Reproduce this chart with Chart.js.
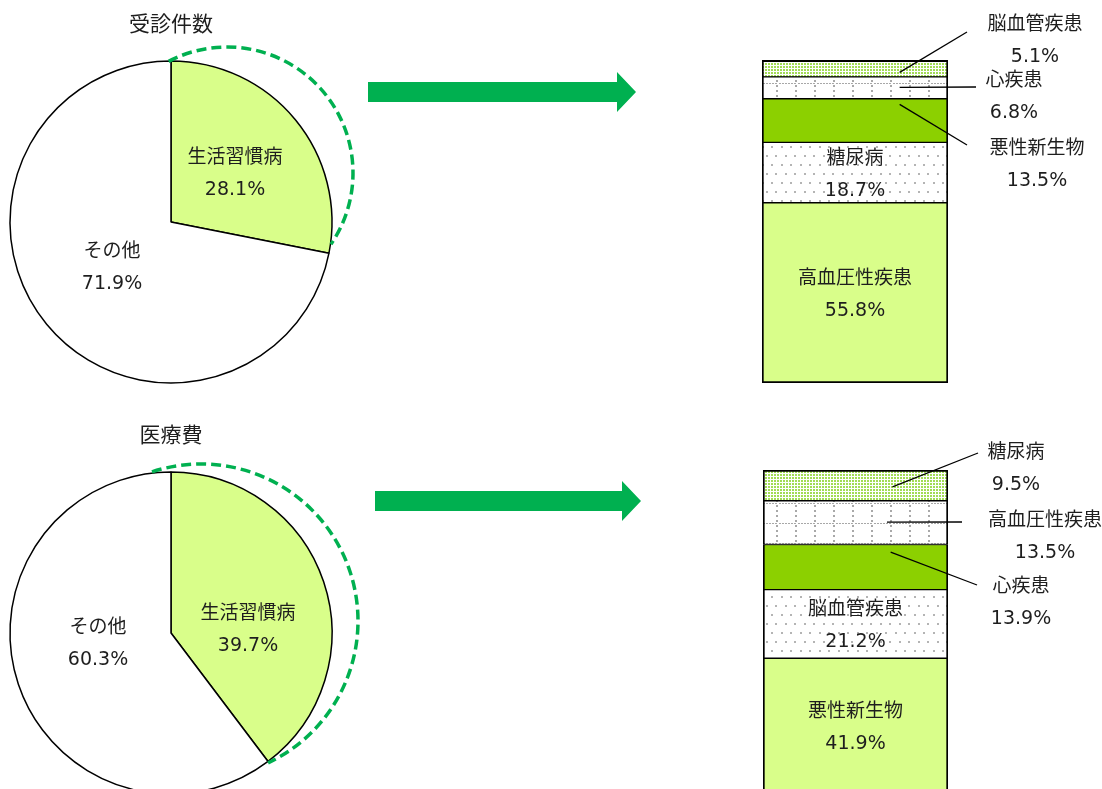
<!DOCTYPE html>
<html lang="ja">
<head>
<meta charset="utf-8">
<title>生活習慣病の受診件数と医療費</title>
<script src="https://cdn.jsdelivr.net/npm/chart.js@4.4.1/dist/chart.umd.min.js"></script>
<style>
  html, body { margin: 0; padding: 0; background: #fff; }
  #wrap { position: relative; width: 1102px; height: 789px; overflow: hidden; }
  #wrap canvas { position: absolute; left: 0; top: 0; }
</style>
</head>
<body>
<div id="wrap">
  <canvas id="pieCount" width="1102" height="820"></canvas>
  <canvas id="pieCost" width="1102" height="820"></canvas>
  <canvas id="barCount" width="1102" height="820"></canvas>
  <canvas id="barCost" width="1102" height="820"></canvas>
</div>
<script>
// share of lifestyle diseases
const pieLabels = ['生活習慣病', 'その他'];
const countShare = [28.1, 71.9];
const costShare = [39.7, 60.3];

// breakdown of lifestyle diseases, bottom of the stack first
const countDiseases = ['高血圧性疾患', '糖尿病', '悪性新生物', '心疾患', '脳血管疾患'];
const countValues = [55.8, 18.7, 13.5, 6.8, 5.1];
const costDiseases = ['悪性新生物', '脳血管疾患', '心疾患', '高血圧性疾患', '糖尿病'];
const costValues = [41.9, 21.2, 13.9, 13.5, 9.5];

const TEXT = '#1e1e1e';
const FONT = '19px "DejaVu Sans", "Noto Sans CJK JP", sans-serif';
const TITLE_FONT = '21px "DejaVu Sans", "Noto Sans CJK JP", sans-serif';
const LIGHT_GREEN = '#d9fe8a';
const SOLID_GREEN = '#8cd000';
const ARROW_GREEN = '#00b050';
const TEXT_NUDGE = 2; // middle baseline sits a little high for these fonts

// small repeating fills for the stacked bars
function makePattern(canvasId, w, h, paint) {
  const tile = document.createElement('canvas');
  tile.width = w; tile.height = h;
  const g = tile.getContext('2d');
  g.fillStyle = '#fff';
  g.fillRect(0, 0, w, h);
  paint(g);
  return document.getElementById(canvasId).getContext('2d').createPattern(tile, 'repeat');
}

function barFills(canvasId) {
  const greenDots = makePattern(canvasId, 3, 3, g => {
    g.fillStyle = '#a2dc55';
    g.fillRect(0, 0, 2, 2);
  });
  const dottedGrid = makePattern(canvasId, 19, 20, g => {
    g.fillStyle = '#a8a8a8';
    for (let x = 0; x < 18; x += 3) g.fillRect(x, 3, 2, 1);
    for (let y = 0; y < 20; y += 5) g.fillRect(16, y, 2, 2);
  });
  const sparseDots = makePattern(canvasId, 19, 18, g => {
    g.fillStyle = '#b4b4b4';
    g.fillRect(2, 2, 2, 2);
    g.fillRect(11, 2, 2, 2);
    g.fillRect(6, 11, 2, 2);
    g.fillRect(15, 11, 2, 2);
  });
  // fill by position in the stack, bottom to top
  return [LIGHT_GREEN, sparseDots, SOLID_GREEN, dottedGrid, greenDots];
}

function drawPair(ctx, lines, x, y) {
  ctx.fillText(lines[0], x, y - 16 + TEXT_NUDGE);
  ctx.fillText(lines[1], x, y + 16 + TEXT_NUDGE);
}

// title, dashed outline, slice labels and the arrow to the breakdown bar
function pieDecor(cfg) {
  return {
    id: 'pieDecor',
    afterDatasetsDraw(chart) {
      const ctx = chart.ctx;
      const arcs = chart.getDatasetMeta(0).data;
      const { x: cx, y: cy } = arcs[0].getProps(['x', 'y'], true);
      const values = chart.data.datasets[0].data;
      const deg = Math.PI / 180;

      ctx.save();
      ctx.strokeStyle = ARROW_GREEN;
      ctx.lineWidth = 3.5;
      ctx.setLineDash([10, 5]);
      ctx.beginPath();
      ctx.arc(cx + cfg.ring.dx, cy + cfg.ring.dy, cfg.ring.r,
        (cfg.ring.from - 90) * deg, (cfg.ring.to - 90) * deg);
      ctx.stroke();
      ctx.setLineDash([]);

      ctx.fillStyle = TEXT;
      ctx.textAlign = 'center';
      ctx.textBaseline = 'middle';
      ctx.font = TITLE_FONT;
      ctx.fillText(cfg.title, cx, cy - 198 + TEXT_NUDGE);

      ctx.font = FONT;
      chart.data.labels.forEach((name, i) => {
        const [dx, dy] = cfg.spots[i];
        drawPair(ctx, [name, values[i].toFixed(1) + '%'], cx + dx, cy + dy);
      });

      const a = cfg.arrow;
      ctx.fillStyle = ARROW_GREEN;
      ctx.beginPath();
      ctx.moveTo(a.x0, a.y - 10);
      ctx.lineTo(a.head, a.y - 10);
      ctx.lineTo(a.head, a.y - 20);
      ctx.lineTo(a.tip, a.y);
      ctx.lineTo(a.head, a.y + 20);
      ctx.lineTo(a.head, a.y + 10);
      ctx.lineTo(a.x0, a.y + 10);
      ctx.closePath();
      ctx.fill();
      ctx.restore();
    }
  };
}

// labels inside the two lower segments, callouts with leader lines for the rest
function barDecor(callouts) {
  return {
    id: 'barDecor',
    afterDatasetsDraw(chart) {
      const ctx = chart.ctx;
      ctx.save();
      ctx.font = FONT;
      ctx.fillStyle = TEXT;
      ctx.strokeStyle = '#000';
      ctx.lineWidth = 1.3;
      ctx.textAlign = 'center';
      ctx.textBaseline = 'middle';
      chart.data.datasets.forEach((ds, i) => {
        const bar = chart.getDatasetMeta(i).data[0];
        const { x, y, base, width } = bar.getProps(['x', 'y', 'base', 'width'], true);
        const lines = [ds.label, ds.data[0].toFixed(1) + '%'];
        const co = callouts.find(c => c.index === i);
        if (!co) {
          drawPair(ctx, lines, x, (y + base) / 2);
          return;
        }
        ctx.beginPath();
        ctx.moveTo(x - width / 2 + co.fx * width, y + co.fy * (base - y));
        ctx.lineTo(co.ex, co.ey);
        ctx.stroke();
        drawPair(ctx, lines, co.tx, co.ty);
      });
      ctx.restore();
    }
  };
}

function pieChart(id, data, padding, decor) {
  return new Chart(document.getElementById(id), {
    type: 'pie',
    data: {
      labels: pieLabels,
      datasets: [{
        data: data,
        backgroundColor: [LIGHT_GREEN, '#ffffff'],
        borderColor: '#000',
        borderWidth: 1.5
      }]
    },
    options: {
      responsive: false,
      animation: false,
      events: [],
      radius: 161,
      layout: { padding: padding },
      plugins: { legend: { display: false }, tooltip: { enabled: false } }
    },
    plugins: [pieDecor(decor)]
  });
}

function barChart(id, names, values, padding, callouts) {
  const fills = barFills(id);
  const last = names.length - 1;
  return new Chart(document.getElementById(id), {
    type: 'bar',
    data: {
      labels: [''],
      datasets: names.map((name, i) => ({
        label: name,
        data: [values[i]],
        backgroundColor: fills[i],
        borderColor: '#000',
        borderWidth: { left: 2, right: 2, top: i === last ? 2 : 1, bottom: i === 0 ? 2 : 1 },
        borderSkipped: false,
        barPercentage: 1,
        categoryPercentage: 1
      }))
    },
    options: {
      responsive: false,
      animation: false,
      events: [],
      layout: { padding: padding },
      scales: {
        x: { stacked: true, display: false },
        y: { stacked: true, display: false, min: 0, max: 100 }
      },
      plugins: { legend: { display: false }, tooltip: { enabled: false } }
    },
    plugins: [barDecor(callouts)]
  });
}

pieChart('pieCount', countShare, { left: 0, right: 760, top: 51, bottom: 427 }, {
  title: '受診件数',
  spots: [[64, -50], [-59, 44]],
  ring: { dx: 56, dy: -49, r: 126, from: -27.6, to: 124.4 },
  arrow: { x0: 368, head: 617, tip: 636, y: 92 }
});

pieChart('pieCost', costShare, { left: 0, right: 760, top: 462, bottom: 16 }, {
  title: '医療費',
  spots: [[77, -5], [-73, 9]],
  ring: { dx: 30, dy: -12, r: 157, from: -18.2, to: 154.7 },
  arrow: { x0: 375, head: 622, tip: 641, y: 501 }
});

barChart('barCount', countDiseases, countValues, { left: 762, right: 154, top: 60, bottom: 437 }, [
  { index: 4, fx: 0.74, fy: 0.73, ex: 967, ey: 32, tx: 1035, ty: 39 },
  { index: 3, fx: 0.74, fy: 0.48, ex: 976, ey: 87, tx: 1014, ty: 95 },
  { index: 2, fx: 0.74, fy: 0.13, ex: 967, ey: 145, tx: 1037, ty: 163 }
]);

barChart('barCost', costDiseases, costValues, { left: 763, right: 154, top: 470, bottom: 26 }, [
  { index: 4, fx: 0.70, fy: 0.55, ex: 978, ey: 453, tx: 1016, ty: 467 },
  { index: 3, fx: 0.67, fy: 0.49, ex: 962, ey: 522, tx: 1045, ty: 535 },
  { index: 2, fx: 0.69, fy: 0.17, ex: 977, ey: 585, tx: 1021, ty: 601 }
]);
</script>
</body>
</html>
